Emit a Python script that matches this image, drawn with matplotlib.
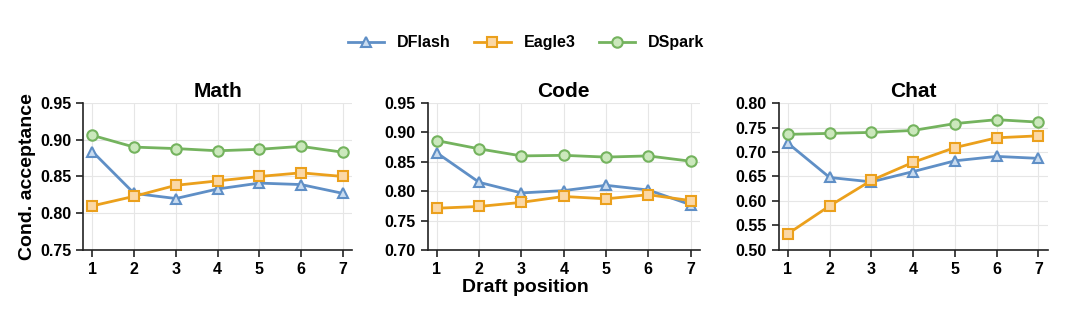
import matplotlib
matplotlib.use("Agg")
import matplotlib.pyplot as plt

positions = [1, 2, 3, 4, 5, 6, 7]
methods = ["DFlash", "Eagle3", "DSpark"]
tasks = ["Math", "Code", "Chat"]

math_dflash = [0.884, 0.827, 0.820, 0.833, 0.841, 0.839, 0.827]
math_eagle3 = [0.810, 0.823, 0.838, 0.844, 0.850, 0.855, 0.850]
math_dspark = [0.906, 0.890, 0.888, 0.885, 0.887, 0.891, 0.883]

code_dflash = [0.865, 0.815, 0.797, 0.801, 0.810, 0.802, 0.777]
code_eagle3 = [0.771, 0.774, 0.781, 0.791, 0.787, 0.794, 0.784]
code_dspark = [0.886, 0.872, 0.860, 0.861, 0.858, 0.860, 0.851]

chat_dflash = [0.718, 0.648, 0.639, 0.660, 0.682, 0.691, 0.687]
chat_eagle3 = [0.533, 0.590, 0.642, 0.679, 0.709, 0.729, 0.733]
chat_dspark = [0.736, 0.738, 0.740, 0.744, 0.758, 0.766, 0.761]

yticks_math = [0.75, 0.80, 0.85, 0.90, 0.95]
yticks_code = [0.70, 0.75, 0.80, 0.85, 0.90, 0.95]
yticks_chat = [0.50, 0.55, 0.60, 0.65, 0.70, 0.75, 0.80]

data = {
    "Math": [math_dflash, math_eagle3, math_dspark],
    "Code": [code_dflash, code_eagle3, code_dspark],
    "Chat": [chat_dflash, chat_eagle3, chat_dspark],
}
yticks = {"Math": yticks_math, "Code": yticks_code, "Chat": yticks_chat}

styles = {
    "DFlash": dict(color="#5f8fc6", marker="^", mfc="#c9dcf0"),
    "Eagle3": dict(color="#eba01c", marker="s", mfc="#fbd8a6"),
    "DSpark": dict(color="#74b35e", marker="o", mfc="#cbe8bc"),
}

plt.rcParams["font.family"] = ["Liberation Sans", "DejaVu Sans"]
plt.rcParams["font.weight"] = "bold"

fig = plt.figure(figsize=(10.8, 3.16), dpi=100)
lefts = [0.077, 0.396, 0.721]
widths = [0.249, 0.252, 0.249]
bottom, height = 0.209, 0.465

handles = []
for i, task in enumerate(tasks):
    ax = fig.add_axes([lefts[i], bottom, widths[i], height])
    for m, vals in zip(methods, data[task]):
        st = styles[m]
        h, = ax.plot(positions, vals, color=st["color"], lw=2.0,
                     marker=st["marker"], markersize=7.5,
                     markerfacecolor=st["mfc"], markeredgecolor=st["color"],
                     markeredgewidth=1.5, label=m)
        if i == 0:
            handles.append(h)
    yt = yticks[task]
    ax.set_ylim(yt[0], yt[-1])
    ax.set_yticks(yt)
    ax.set_yticklabels([f"{v:.2f}" for v in yt])
    ax.set_xlim(0.78, 7.22)
    ax.set_xticks(positions)
    ax.grid(True, color="#e6e6e6", lw=0.8)
    ax.set_axisbelow(True)
    for s in ["top", "right"]:
        ax.spines[s].set_visible(False)
    for s in ["left", "bottom"]:
        ax.spines[s].set_linewidth(1.2)
        ax.spines[s].set_color("#222222")
    ax.tick_params(labelsize=11.5, length=5, width=1.2, color="#222222")
    for lab in ax.get_xticklabels() + ax.get_yticklabels():
        lab.set_fontweight("bold")
    ax.set_title(task, fontsize=15, fontweight="bold", pad=4)
    if i == 0:
        ax.set_ylabel("Cond. acceptance", fontsize=14, fontweight="bold", labelpad=3)

fig.text(525 / 1080, 1 - 287 / 316, "Draft position", ha="center", va="center",
         fontsize=14, fontweight="bold")

fig.legend(handles=handles, labels=methods, loc="center", ncol=3,
           bbox_to_anchor=(0.487, 0.864), frameon=False,
           handlelength=2.3, columnspacing=1.45, handletextpad=0.8,
           prop={"weight": "bold", "size": 11.5})

fig.savefig("out.png", dpi=100)
